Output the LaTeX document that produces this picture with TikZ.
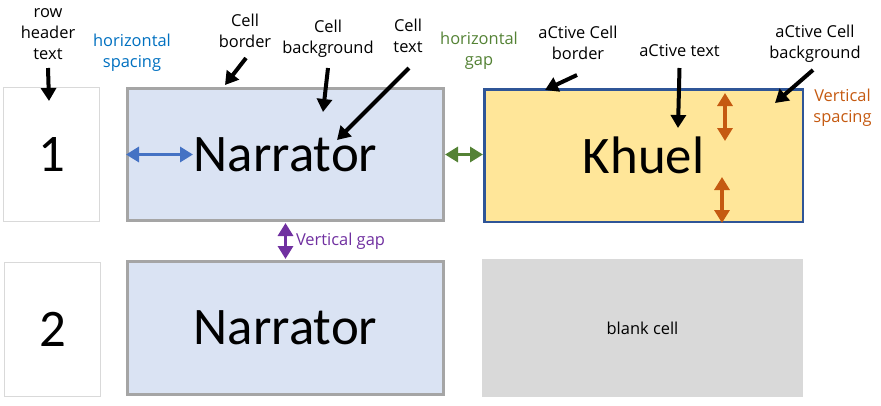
\documentclass[tikz,border=0pt]{standalone}
\usepackage{fontspec}
\setmainfont{Carlito}
\newfontfamily\annfont{Open Sans}
\usetikzlibrary{arrows.meta}
\definecolor{cellfill}{HTML}{DAE3F3}
\definecolor{cellborder}{HTML}{A5A5A5}
\definecolor{activefill}{HTML}{FFE699}
\definecolor{activeborder}{HTML}{2F5597}
\definecolor{blankfill}{HTML}{D9D9D9}
\definecolor{hdrborder}{HTML}{D9D9D9}
\definecolor{annblue}{HTML}{0070C0}
\definecolor{arrblue}{HTML}{4472C4}
\definecolor{anngreen}{HTML}{548235}
\definecolor{annorange}{HTML}{C55A11}
\definecolor{annpurple}{HTML}{7030A0}
\begin{document}
\begin{tikzpicture}[x=1bp,y=-1bp,
  bigtext/.style={font=\fontsize{53}{60}\selectfont},
  hdr/.style={draw=hdrborder, line width=1bp, fill=white, minimum width=96bp, minimum height=134bp, inner sep=0, bigtext},
  cellbox/.style={draw=cellborder, fill=cellfill, line width=3bp, minimum width=316bp, minimum height=132bp, inner sep=0, bigtext},
  activebox/.style={draw=activeborder, fill=activefill, line width=2.5bp, minimum width=318.5bp, minimum height=132.5bp, inner sep=0, bigtext},
  blankbox/.style={fill=blankfill, minimum width=321bp, minimum height=138bp, inner sep=0, font=\annfont\fontsize{16.5}{20}\selectfont},
  lbl/.style={align=center, inner sep=0, font=\annfont\fontsize{16.5}{21}\selectfont},
  ann/.style={-{Triangle[length=13bp,width=15bp]}, line width=4bp, black},
  dbl/.style={{Triangle[length=13bp,width=15bp]}-{Triangle[length=13bp,width=15bp]}, line width=3.2bp}
]
\useasboundingbox (0,0) rectangle (881,405);

% cells
\node[hdr] (h1) at (51.5,154.5) {1};
\node[hdr] (h2) at (52.5,329.5) {2};
\node[cellbox] (c1) at (285.5,154.5) {Narrator};
\node[cellbox, minimum height=133bp] (c2) at (285.5,328) {Narrator};
\node[activebox] (act) at (643.5,155.5) {Khuel};
\node[blankbox] (blank) at (642.5,328) {blank cell};

% labels
\node[lbl] (rowlbl) at (48,33.7) {row\\header\\text};
\node[lbl, text=annblue] (hsp) at (132,53) {horizontal\\spacing};
\node[lbl] (cb) at (245,30.4) {Cell\\border};
\node[lbl] (cbg) at (328,38.4) {Cell\\background};
\node[lbl] (ct) at (408,35.9) {Cell\\text};
\node[lbl, text=anngreen] (hgap) at (479,51) {horizontal\\gap};
\node[lbl] (acb) at (578,42.4) {aCtive Cell\\border};
\node[lbl] (at) at (679.5,50.9) {aCtive text};
\node[lbl] (acbg) at (815,43.4) {aCtive Cell\\background};
\node[lbl, text=annorange] (vsp) at (842.5,107.4) {Vertical\\spacing};
\node[lbl, text=annpurple] (vgap) at (340.5,240.8) {Vertical gap};

% arrow targets
\coordinate (rowT) at (49,101);
\coordinate (cbT) at (225,85);
\coordinate (cbgT) at (323,112);
\coordinate (ctT) at (337,140);
\coordinate (acbT) at (545,90);
\coordinate (atT) at (678,128);
\coordinate (acbgT) at (775,103);
\coordinate (hspR) at (193,154.5);
\coordinate (vsA) at (725,93);
\coordinate (vsB) at (725,141);
\coordinate (vsC) at (722,177);

% black annotation arrows
\draw[ann] (rowlbl |- 0,68) -- (rowT);
\draw[ann] ([xshift=1bp]cb |- 0,58) -- (cbT);
\draw[ann] (cbg |- 0,68) -- (cbgT);
\draw[ann] ([xshift=1bp]ct |- 0,68) -- (ctT);
\draw[ann] ([xshift=-1bp]acb |- 0,75) -- (acbT);
\draw[ann] (at |- 0,68) -- (atT);
\draw[ann] ([xshift=-2bp]acbg |- 0,70) -- (acbgT);

% coloured double arrows
\draw[dbl, arrblue] (c1.west) -- (hspR);
\draw[dbl, anngreen] (c1.east) -- (c1.east -| act.west);
\draw[dbl, annpurple] ([yshift=-1bp]c1.south) -- ([yshift=1bp]c2.north);
\draw[dbl, annorange] (vsA) -- (vsB);
\draw[dbl, annorange] (vsC) -- (vsC |- act.south);
\end{tikzpicture}
\end{document}
